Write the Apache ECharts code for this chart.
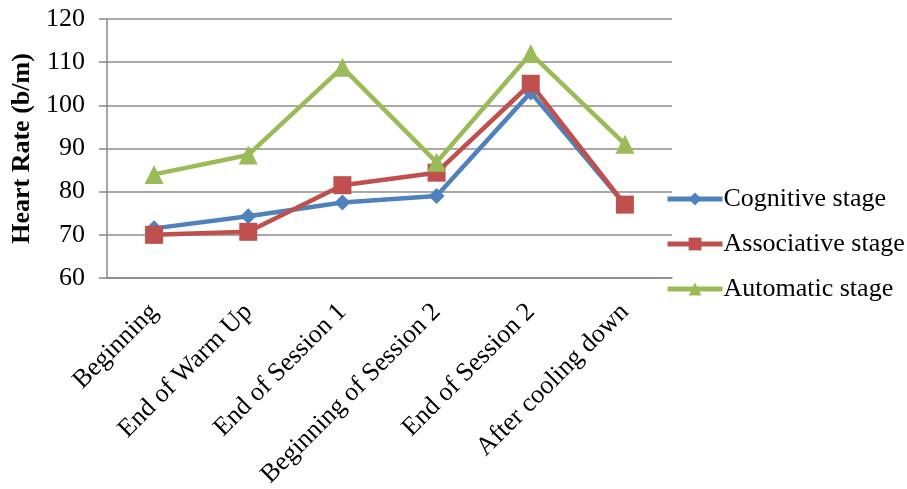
<!DOCTYPE html>
<html>
<head>
<meta charset="utf-8">
<script src="https://cdn.jsdelivr.net/npm/echarts@6/dist/echarts.min.js"></script>
<style>
html,body{margin:0;padding:0;background:#fff;}
#chart{width:907px;height:489px;}
</style>
</head>
<body>
<div id="chart"></div>
<script>
// Heart rate across training phases, by learning stage
const categories = ['Beginning', 'End of Warm Up', 'End of Session 1', 'Beginning of Session 2', 'End of Session 2', 'After cooling down'];
const cognitive = [71.5, 74.3, 77.5, 79.0, 103.0, 77.0];
const associative = [70.0, 70.7, 81.5, 84.4, 105.0, 77.0];
const automatic = [84.0, 88.5, 108.8, 86.8, 112.0, 91.0];
const yTicks = { min: 60, max: 120, interval: 10 };

const font = '"Liberation Serif", "Times New Roman", serif';

const chart = echarts.init(document.getElementById('chart'));

function lineSeries(name, data, color, symbol, size) {
  return {
    name: name,
    type: 'line',
    data: data,
    symbol: symbol,
    symbolSize: size,
    lineStyle: { color: color, width: 4.5 },
    itemStyle: { color: color },
    animation: false
  };
}

chart.setOption({
  backgroundColor: '#fff',
  grid: { left: 107, right: 235, top: 19, bottom: 211, containLabel: false, outerBoundsMode: 'none' },
  legend: {
    orient: 'vertical',
    left: 660,
    top: 181,
    itemWidth: 55,
    itemHeight: 16,
    itemGap: 19,
    lineStyle: { width: 5 },
    textStyle: { fontFamily: font, fontSize: 26, color: '#000', padding: [0, 0, 0, -4] },
    data: ['Cognitive stage', 'Associative stage', 'Automatic stage']
  },
  xAxis: {
    type: 'category',
    data: categories,
    boundaryGap: true,
    axisLine: { show: true, lineStyle: { color: '#888', width: 1.5 } },
    axisTick: { show: false },
    axisLabel: {
      rotate: 45,
      interval: 0,
      margin: 30,
      fontFamily: font,
      fontSize: 26,
      color: '#000'
    },
    splitLine: { show: false }
  },
  yAxis: {
    type: 'value',
    min: yTicks.min,
    max: yTicks.max,
    interval: yTicks.interval,
    name: 'Heart Rate (b/m)',
    nameLocation: 'middle',
    nameGap: 71,
    nameRotate: 90,
    nameTextStyle: { fontFamily: font, fontSize: 26, fontWeight: 'bold', color: '#000' },
    axisLine: { show: true, lineStyle: { color: '#888', width: 1.5 } },
    axisTick: { show: true, length: 8, lineStyle: { color: '#888', width: 1.5 } },
    axisLabel: { margin: 22, fontFamily: font, fontSize: 26, color: '#000' },
    splitLine: { show: true, lineStyle: { color: '#8c8c8c', width: 1.5 } }
  },
  series: [
    lineSeries('Cognitive stage', cognitive, '#4F81BD', 'diamond', 16),
    lineSeries('Associative stage', associative, '#C0504D', 'rect', 18),
    lineSeries('Automatic stage', automatic, '#9BBB59', 'triangle', 19)
  ]
});
</script>
</body>
</html>
